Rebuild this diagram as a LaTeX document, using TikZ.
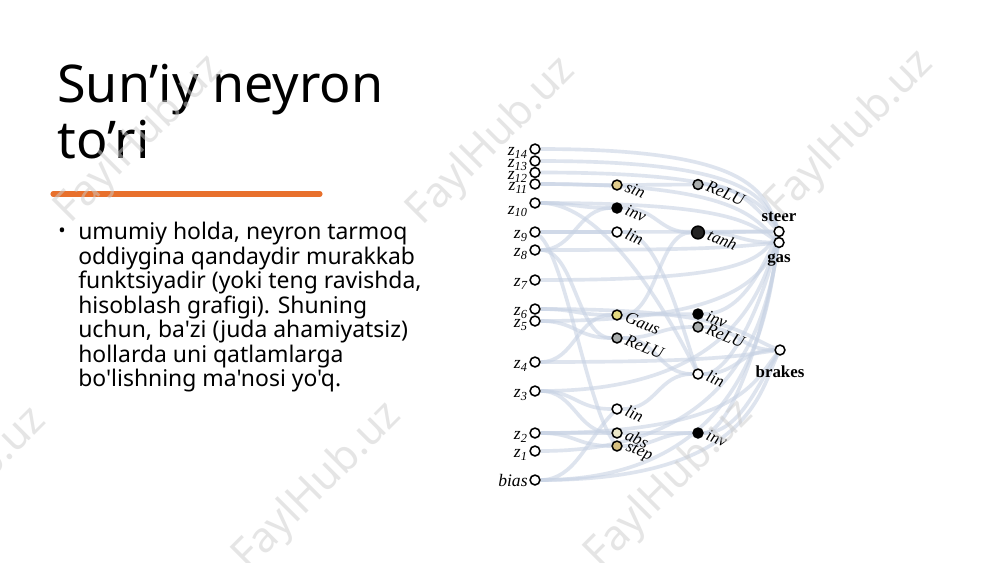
\documentclass[tikz,border=0pt]{standalone}
\usepackage{fontspec}
\setmainfont{Noto Sans}
\newfontfamily\bodyfont{Noto Sans}[Ligatures=TeXOff]
\newfontfamily\netfont{Liberation Serif}
\usetikzlibrary{backgrounds}

\definecolor{edgeblue}{RGB}{200,211,228}
\definecolor{slideorange}{RGB}{232,112,44}
\definecolor{actsin}{RGB}{224,204,140}
\definecolor{actgaus}{RGB}{228,218,128}
\definecolor{actrelu}{RGB}{168,172,172}
\definecolor{actabs}{RGB}{236,232,200}
\definecolor{actstep}{RGB}{214,192,128}
\definecolor{acttanh}{RGB}{35,35,35}

\tikzset{
    unit/.style={circle, draw=black, line width=1.1pt, minimum size=7pt, inner sep=0pt, fill=white},
    inlab/.style={anchor=east, inner sep=1pt, yshift=-3pt, font=\netfont\itshape\fontsize{12.5}{12.5}\selectfont},
    hlab/.style={rotate=-22, anchor=west, inner sep=2.5pt, font=\netfont\itshape\fontsize{12}{12}\selectfont},
    outlab/.style={inner sep=1pt, font=\netfont\bfseries\fontsize{12}{12}\selectfont},
    edge/.style={draw=edgeblue, line width=2.6pt, opacity=0.6},
    title/.style={anchor=north west, align=left, inner sep=0pt, font=\fontsize{37}{40}\selectfont},
    body/.style={anchor=north west, align=left, inner sep=0pt, font=\bodyfont\fontsize{16.3}{17.4}\selectfont},
    watermark/.style={rotate=45, text=gray!40, opacity=0.5, font=\bfseries\fontsize{30}{30}\selectfont}
}

\begin{document}
\begin{tikzpicture}[x=0.025cm, y=-0.025cm]
    % Slide area
    \useasboundingbox (0,0) rectangle (1000,562);
    \begin{scope}[on background layer]
        \fill[white] (0,0) rectangle (1000,562);
    \end{scope}

    % Title with orange rule
    \node[title] (title) at (57,64) {Sun’iy neyron\\to’ri};
    \draw[slideorange, line width=3.6pt, line cap=round] (53,194) -- (320,194);

    % Bullet text
    \node[inner sep=0pt, font=\bodyfont\fontsize{14}{14}\selectfont] (dot) at (62,233) {•};
    \node[body] (text) at (78,222) {umumiy holda, neyron tarmoq\\oddiygina qandaydir murakkab\\funktsiyadir (yoki teng ravishda,\\hisoblash grafigi). Shuning\\uchun, ba'zi (juda ahamiyatsiz)\\hollarda uni qatlamlarga\\bo'lishning ma'nosi yo'q.};

    % Input units
    \node[unit, label={[inlab]180:z\textsubscript{14}}] (z14) at (535,149) {};
    \node[unit, label={[inlab]180:z\textsubscript{13}}] (z13) at (535,161) {};
    \node[unit, label={[inlab]180:z\textsubscript{12}}] (z12) at (535,172.5) {};
    \node[unit, label={[inlab]180:z\textsubscript{11}}] (z11) at (535,184) {};
    \node[unit, label={[inlab,yshift=-3pt]180:z\textsubscript{10}}] (z10) at (535,203) {};
    \node[unit, label={[inlab]180:z\textsubscript{9}}] (z9) at (535,232) {};
    \node[unit, label={[inlab]180:z\textsubscript{8}}] (z8) at (535,250) {};
    \node[unit, label={[inlab]180:z\textsubscript{7}}] (z7) at (535,280) {};
    \node[unit, label={[inlab]180:z\textsubscript{6}}] (z6) at (535,309) {};
    \node[unit, label={[inlab]180:z\textsubscript{5}}] (z5) at (535,321) {};
    \node[unit, label={[inlab]180:z\textsubscript{4}}] (z4) at (535,362) {};
    \node[unit, label={[inlab]180:z\textsubscript{3}}] (z3) at (535,391) {};
    \node[unit, label={[inlab]180:z\textsubscript{2}}] (z2) at (535,433) {};
    \node[unit, label={[inlab]180:z\textsubscript{1}}] (z1) at (535,451) {};
    \node[unit, label={[inlab,yshift=3pt]180:bias}] (bias) at (535,480) {};

    % First hidden layer
    \node[unit, fill=actsin, label={[hlab]0:sin}] (hsin) at (617,185) {};
    \node[unit, fill=black, label={[hlab]0:inv}] (hinv) at (617,208) {};
    \node[unit, label={[hlab]0:lin}] (hlin) at (617,232) {};
    \node[unit, fill=actgaus, label={[hlab]0:Gaus}] (hgaus) at (617,315) {};
    \node[unit, fill=actrelu, label={[hlab]0:ReLU}] (hrelu) at (617,338) {};
    \node[unit, label={[hlab]0:lin}] (hlinb) at (617,409) {};
    \node[unit, fill=actabs, label={[hlab]0:abs}] (habs) at (617,433) {};
    \node[unit, fill=actstep, label={[hlab]0:step}] (hstep) at (617,446) {};

    % Second hidden layer
    \node[unit, fill=actrelu, label={[hlab]0:ReLU}] (grelu) at (698,184.5) {};
    \node[unit, fill=acttanh, minimum size=9pt, label={[hlab]0:tanh}] (gtanh) at (698,232.5) {};
    \node[unit, fill=black, label={[hlab]0:inv}] (ginv) at (698,314) {};
    \node[unit, fill=actrelu, label={[hlab]0:ReLU}] (grelub) at (698,327) {};
    \node[unit, label={[hlab]0:lin}] (glin) at (698,374) {};
    \node[unit, fill=black, label={[hlab]0:inv}] (ginvb) at (698,433) {};

    % Outputs
    \node[unit, label={[outlab,yshift=2pt]90:steer}] (steer) at (779,231.5) {};
    \node[unit, label={[outlab,yshift=-3pt]270:gas}] (gas) at (779,242.5) {};
    \node[unit, label={[outlab,yshift=-6pt]270:brakes}] (brakes) at (780,350) {};

    \begin{scope}[on background layer]
        % inputs straight to outputs
        \draw[edge] (z14) .. controls +(215,0) and +(-15,-40) .. (steer);
        \draw[edge] (z13) .. controls +(210,0) and +(-15,-35) .. (steer);
        \draw[edge] (z12) .. controls +(205,0) and +(-18,-32) .. (steer);
        \draw[edge] (z11) .. controls +(200,0) and +(-25,-25) .. (gas);
        \draw[edge] (z10) .. controls +(195,0) and +(-30,-20) .. (gas);
        \draw[edge] (z9) .. controls +(150,0) and +(-70,0) .. (steer);
        \draw[edge] (z8) .. controls +(170,0) and +(-50,5) .. (gas);
        \draw[edge] (z7) .. controls +(205,0) and +(-20,30) .. (steer);
        \draw[edge] (z6) .. controls +(200,0) and +(-40,-15) .. (brakes);
        \draw[edge] (z5) .. controls +(200,0) and +(-20,35) .. (gas);
        \draw[edge] (z4) .. controls +(190,0) and +(-40,5) .. (brakes);
        \draw[edge] (z3) .. controls +(200,0) and +(-15,55) .. (steer);
        \draw[edge] (z2) .. controls +(205,0) and +(-25,30) .. (brakes);
        \draw[edge] (z1) .. controls +(210,0) and +(-12,65) .. (gas);
        \draw[edge] (bias) .. controls +(215,0) and +(-20,40) .. (brakes);
        \draw[edge] (bias) .. controls +(215,0) and +(-10,80) .. (steer);

        % inputs to first hidden layer
        \draw[edge] (z11) .. controls +(40,0) and +(-40,0) .. (hsin);
        \draw[edge] (z10) .. controls +(40,0) and +(-40,0) .. (hinv);
        \draw[edge] (z9) -- (hlin);
        \draw[edge] (z8) .. controls +(40,0) and +(-40,0) .. (hinv);
        \draw[edge] (z8) .. controls +(40,0) and +(-40,0) .. (hrelu);
        \draw[edge] (z6) .. controls +(40,0) and +(-40,0) .. (hgaus);
        \draw[edge] (z5) .. controls +(40,0) and +(-40,0) .. (hrelu);
        \draw[edge] (z4) .. controls +(40,0) and +(-40,0) .. (hgaus);
        \draw[edge] (z3) .. controls +(40,0) and +(-40,0) .. (hlinb);
        \draw[edge] (z3) .. controls +(40,0) and +(-40,0) .. (habs);
        \draw[edge] (z2) -- (habs);
        \draw[edge] (z2) .. controls +(40,0) and +(-40,0) .. (hstep);
        \draw[edge] (z9) .. controls +(30,25) and +(-30,-40) .. (hstep);
        \draw[edge] (bias) .. controls +(40,0) and +(-30,30) .. (hlinb);
        \draw[edge] (z10) .. controls +(70,0) and +(-30,-60) .. (glin);

        % first to second hidden layer
        \draw[edge] (hsin) -- (grelu);
        \draw[edge] (hinv) .. controls +(40,0) and +(-40,0) .. (gtanh);
        \draw[edge] (hlin) .. controls +(40,0) and +(-20,-60) .. (glin);
        \draw[edge] (hgaus) -- (ginv);
        \draw[edge] (hgaus) .. controls +(40,0) and +(-40,0) .. (gtanh);
        \draw[edge] (hrelu) .. controls +(40,0) and +(-40,0) .. (grelub);
        \draw[edge] (hrelu) .. controls +(40,0) and +(-40,0) .. (glin);
        \draw[edge] (hlinb) .. controls +(40,0) and +(-40,0) .. (glin);
        \draw[edge] (habs) -- (ginvb);
        \draw[edge] (hstep) .. controls +(40,0) and +(-40,0) .. (ginvb);

        % second hidden layer to outputs
        \draw[edge] (grelu) .. controls +(40,0) and +(-25,-25) .. (steer);
        \draw[edge] (gtanh) -- (steer);
        \draw[edge] (gtanh) .. controls +(40,0) and +(-40,0) .. (gas);
        \draw[edge] (ginv) .. controls +(40,0) and +(-20,45) .. (steer);
        \draw[edge] (grelub) .. controls +(40,0) and +(-40,0) .. (brakes);
        \draw[edge] (glin) .. controls +(40,0) and +(-40,0) .. (brakes);
        \draw[edge] (glin) .. controls +(35,0) and +(-12,60) .. (steer);
        \draw[edge] (ginvb) .. controls +(35,0) and +(-8,80) .. (steer);
        \draw[edge] (ginvb) .. controls +(40,0) and +(-25,40) .. (brakes);
    \end{scope}

    % Watermarks
    \node[watermark] (wm1) at (140,140) {FaylHub.uz};
    \node[watermark] (wm2) at (492,142) {FaylHub.uz};
    \node[watermark] (wm3) at (850,135) {FaylHub.uz};
    \node[watermark] (wm4) at (-37,492) {FaylHub.uz};
    \node[watermark] (wm5) at (318,487) {FaylHub.uz};
    \node[watermark] (wm6) at (670,485) {FaylHub.uz};
\end{tikzpicture}
\end{document}
